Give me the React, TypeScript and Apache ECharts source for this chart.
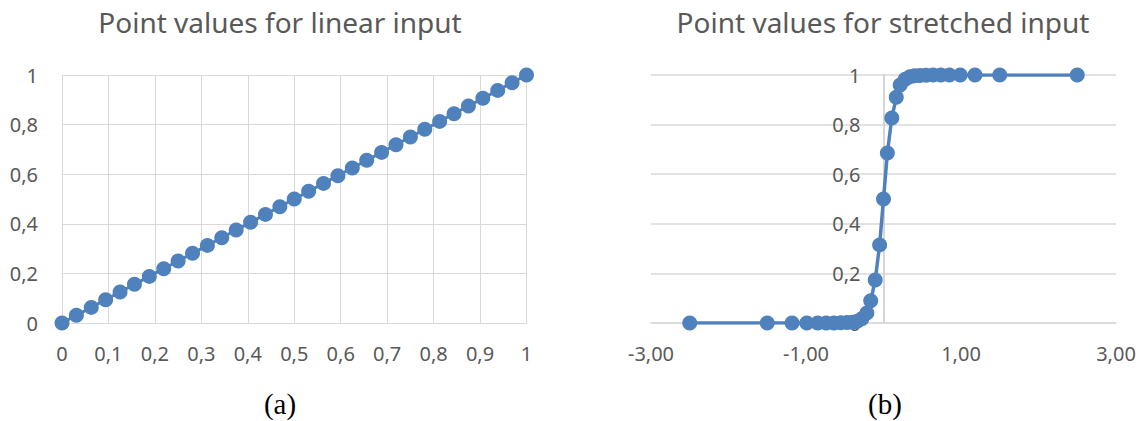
import React, { useEffect, useRef } from "react";
import * as echarts from "echarts";

// Left chart: linear input (33 equally spaced points)
const linearX = [
  0, 0.031, 0.063, 0.094, 0.125, 0.156, 0.188, 0.219, 0.25, 0.281, 0.313, 0.344,
  0.375, 0.406, 0.438, 0.469, 0.5, 0.531, 0.563, 0.594, 0.625, 0.656, 0.688,
  0.719, 0.75, 0.781, 0.813, 0.844, 0.875, 0.906, 0.938, 0.969, 1,
];
const linearY = [
  0, 0.031, 0.063, 0.094, 0.125, 0.156, 0.188, 0.219, 0.25, 0.281, 0.313, 0.344,
  0.375, 0.406, 0.438, 0.469, 0.5, 0.531, 0.563, 0.594, 0.625, 0.656, 0.688,
  0.719, 0.75, 0.781, 0.813, 0.844, 0.875, 0.906, 0.938, 0.969, 1,
];

// Right chart: stretched input
const stretchedX = [
  -2.5, -1.5, -1.18, -0.99, -0.85, -0.74, -0.64, -0.55, -0.47, -0.4, -0.34,
  -0.28, -0.215, -0.165, -0.107, -0.05, 0, 0.05, 0.107, 0.165, 0.215, 0.28,
  0.34, 0.4, 0.47, 0.55, 0.64, 0.74, 0.85, 0.99, 1.18, 1.5, 2.5,
];
const stretchedY = [
  0, 0, 0, 0, 0, 0, 0, 0.001, 0.002, 0.003, 0.007, 0.017, 0.04, 0.09, 0.173,
  0.315, 0.5, 0.685, 0.827, 0.91, 0.96, 0.983, 0.993, 0.997, 0.998, 0.999, 1, 1,
  1, 1, 1, 1, 1,
];

const titles = ["Point values for linear input", "Point values for stretched input"];
const captions = ["(a)", "(b)"];

const BLUE = "#4F81BD";
const GRID = "#D9D9D9";
const LABEL = "#595959";
const FONT = "'Noto Sans', sans-serif";

const comma = (v: number, d: number) => String(+v.toFixed(d)).replace(".", ",");

export default function App() {
  const ref = useRef<HTMLDivElement>(null);
  useEffect(() => {
    document.body.style.margin = "0";
    const chart = echarts.init(ref.current!, undefined, { renderer: "svg" });
    const labelStyle = { color: LABEL, fontSize: 20, fontFamily: FONT };
    chart.setOption({
      animation: false,
      backgroundColor: "#fff",
      grid: [
        { left: 62, top: 75, width: 464.5, height: 248 },
        { left: 651, top: 75, width: 465, height: 248 },
      ],
      xAxis: [
        {
          type: "value",
          gridIndex: 0,
          min: 0,
          max: 1,
          interval: 0.1,
          axisLine: { show: true, lineStyle: { color: GRID, width: 1 } },
          axisTick: { show: false },
          axisLabel: { ...labelStyle, margin: 20, formatter: (v: number) => comma(v, 1) },
          splitLine: { show: true, lineStyle: { color: GRID, width: 1 } },
        },
        {
          type: "value",
          gridIndex: 1,
          min: -3,
          max: 3,
          interval: 2,
          axisLine: { show: true, lineStyle: { color: GRID, width: 1.5 } },
          axisTick: { show: false },
          axisLabel: {
            ...labelStyle,
            margin: 20,
            formatter: (v: number) => v.toFixed(2).replace(".", ","),
          },
          splitLine: { show: false },
        },
      ],
      yAxis: [
        {
          type: "value",
          gridIndex: 0,
          min: 0,
          max: 1,
          interval: 0.2,
          axisLine: { show: false },
          axisTick: { show: false },
          axisLabel: { ...labelStyle, margin: 24, formatter: (v: number) => comma(v, 1) },
          splitLine: { show: true, lineStyle: { color: GRID, width: 1 } },
        },
        {
          type: "value",
          gridIndex: 1,
          min: 0,
          max: 1,
          interval: 0.2,
          position: "left",
          offset: -232.5,
          axisLine: { show: true, onZero: false, lineStyle: { color: "#C8C8C8", width: 1.5 } },
          axisTick: { show: false },
          axisLabel: { ...labelStyle, margin: 23, formatter: (v: number) => comma(v, 1) },
          splitLine: { show: true, lineStyle: { color: GRID, width: 1.5 } },
        },
      ],
      series: [
        {
          type: "line",
          xAxisIndex: 0,
          yAxisIndex: 0,
          data: linearX.map((x, i) => [x, linearY[i]]),
          symbol: "circle",
          symbolSize: 15,
          itemStyle: { color: BLUE },
          lineStyle: { color: BLUE, width: 3 },
        },
        {
          type: "line",
          xAxisIndex: 1,
          yAxisIndex: 1,
          data: stretchedX.map((x, i) => [x, stretchedY[i]]),
          symbol: "circle",
          symbolSize: 15,
          itemStyle: { color: BLUE },
          lineStyle: { color: BLUE, width: 3.5 },
        },
      ],
      graphic: [
        {
          type: "text",
          x: 280,
          y: 22,
          style: { text: titles[0], fill: LABEL, font: `28px ${FONT}`, textAlign: "center", textVerticalAlign: "middle" },
        },
        {
          type: "text",
          x: 883,
          y: 22,
          style: { text: titles[1], fill: LABEL, font: `28px ${FONT}`, textAlign: "center", textVerticalAlign: "middle" },
        },
        {
          type: "text",
          x: 280,
          y: 404,
          style: { text: captions[0], fill: "#000", font: `29px 'Liberation Serif', serif`, textAlign: "center", textVerticalAlign: "middle" },
        },
        {
          type: "text",
          x: 885,
          y: 404,
          style: { text: captions[1], fill: "#000", font: `29px 'Liberation Serif', serif`, textAlign: "center", textVerticalAlign: "middle" },
        },
      ],
    });
    return () => chart.dispose();
  }, []);
  return <div ref={ref} style={{ width: 1144, height: 421 }} />;
}
